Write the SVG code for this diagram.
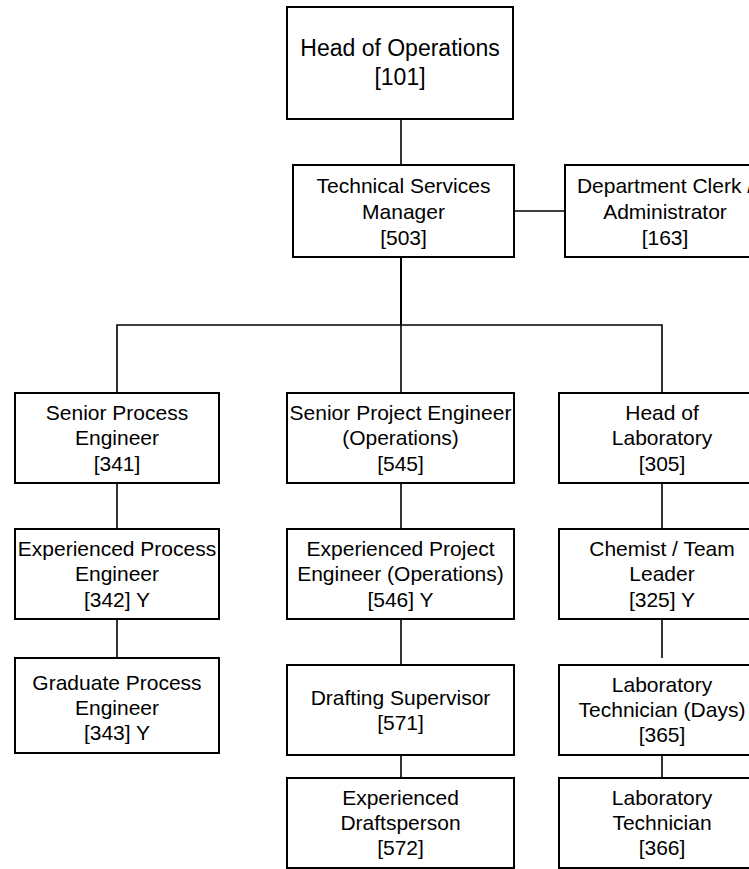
<svg xmlns="http://www.w3.org/2000/svg" width="749" height="869" viewBox="0 0 749 869">
<style>
.box{fill:#fff;stroke:#000;stroke-width:2}
.t{font-family:"Liberation Sans",Arial,sans-serif;font-size:21px;fill:#000;text-anchor:middle}
.big{font-size:23px}
.c{stroke:#000;stroke-width:1.6;fill:none}
</style>
<rect width="749" height="869" fill="#fff"/>
<g id="connectors">
<line class="c" x1="401" y1="119" x2="401" y2="165"/>
<line class="c" x1="514" y1="211" x2="565" y2="211"/>
<line class="c" x1="401" y1="257" x2="401" y2="325" style="stroke-width:2"/>
<polyline class="c" points="117,393 117,325 662,325 662,393"/>
<line class="c" x1="401" y1="325" x2="401" y2="393"/>
<line class="c" x1="117" y1="483" x2="117" y2="529"/>
<line class="c" x1="401" y1="483" x2="401" y2="529"/>
<line class="c" x1="662" y1="483" x2="662" y2="529"/>
<line class="c" x1="117" y1="619" x2="117" y2="658"/>
<line class="c" x1="401" y1="619" x2="401" y2="665"/>
<line class="c" x1="662" y1="619" x2="662" y2="658"/>
<line class="c" x1="401" y1="755" x2="401" y2="778"/>
<line class="c" x1="662" y1="755" x2="662" y2="778"/>
</g>
<g id="n101"><rect class="box" x="287" y="7" width="226" height="112"/>
<text class="t big" x="400" y="56">Head of Operations</text><text class="t big" x="400" y="85">[101]</text></g>
<g id="n503"><rect class="box" x="293" y="165" width="221" height="92"/>
<text class="t" x="403.5" y="192.5">Technical Services</text><text class="t" x="403.5" y="218.5">Manager</text><text class="t" x="403.5" y="244.5">[503]</text></g>
<g id="n163"><rect class="box" x="565" y="165" width="200" height="92"/>
<text class="t" x="665" y="192.5">Department Clerk /</text><text class="t" x="665" y="218.5">Administrator</text><text class="t" x="665" y="244.5">[163]</text></g>
<g id="n341"><rect class="box" x="15" y="393" width="204" height="90"/>
<text class="t" x="117" y="419.5">Senior Process</text><text class="t" x="117" y="445">Engineer</text><text class="t" x="117" y="470.5">[341]</text></g>
<g id="n545"><rect class="box" x="287" y="393" width="227" height="90"/>
<text class="t" x="400.5" y="419.5">Senior Project Engineer</text><text class="t" x="400.5" y="445">(Operations)</text><text class="t" x="400.5" y="470.5">[545]</text></g>
<g id="n305"><rect class="box" x="559" y="393" width="206" height="90"/>
<text class="t" x="662" y="419.5">Head of</text><text class="t" x="662" y="445">Laboratory</text><text class="t" x="662" y="470.5">[305]</text></g>
<g id="n342"><rect class="box" x="15" y="529" width="204" height="90"/>
<text class="t" x="117" y="555.5">Experienced Process</text><text class="t" x="117" y="581">Engineer</text><text class="t" x="117" y="606.5">[342] Y</text></g>
<g id="n546"><rect class="box" x="287" y="529" width="227" height="90"/>
<text class="t" x="400.5" y="555.5">Experienced Project</text><text class="t" x="400.5" y="581">Engineer (Operations)</text><text class="t" x="400.5" y="606.5">[546] Y</text></g>
<g id="n325"><rect class="box" x="559" y="529" width="206" height="90"/>
<text class="t" x="662" y="555.5">Chemist / Team</text><text class="t" x="662" y="581">Leader</text><text class="t" x="662" y="606.5">[325] Y</text></g>
<g id="n343"><rect class="box" x="15" y="658" width="204" height="95"/>
<text class="t" x="117" y="689.5">Graduate Process</text><text class="t" x="117" y="714.5">Engineer</text><text class="t" x="117" y="739.5">[343] Y</text></g>
<g id="n571"><rect class="box" x="287" y="665" width="227" height="90"/>
<text class="t" x="400.5" y="705">Drafting Supervisor</text><text class="t" x="400.5" y="730">[571]</text></g>
<g id="n365"><rect class="box" x="559" y="665" width="206" height="90"/>
<text class="t" x="662" y="692">Laboratory</text><text class="t" x="662" y="717">Technician (Days)</text><text class="t" x="662" y="742">[365]</text></g>
<g id="n572"><rect class="box" x="287" y="778" width="227" height="90"/>
<text class="t" x="400.5" y="805">Experienced</text><text class="t" x="400.5" y="830">Draftsperson</text><text class="t" x="400.5" y="855">[572]</text></g>
<g id="n366"><rect class="box" x="559" y="778" width="206" height="90"/>
<text class="t" x="662" y="805">Laboratory</text><text class="t" x="662" y="830">Technician</text><text class="t" x="662" y="855">[366]</text></g>
</svg>
